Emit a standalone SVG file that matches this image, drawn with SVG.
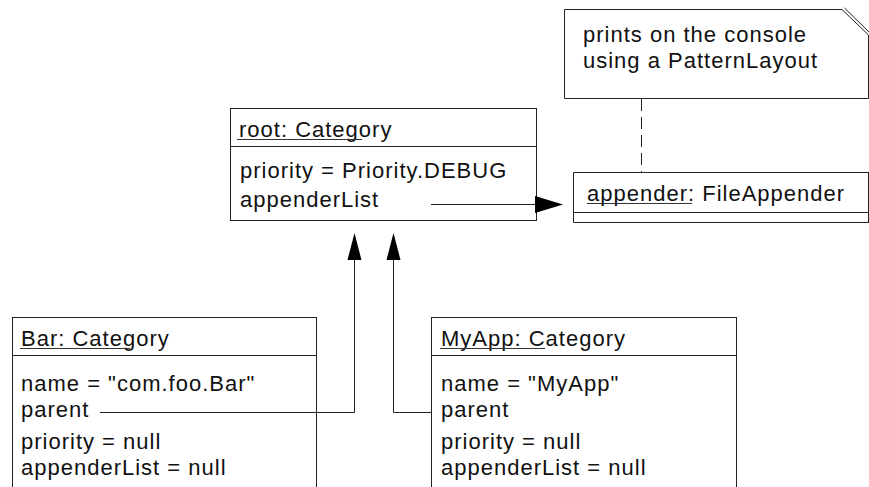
<svg xmlns="http://www.w3.org/2000/svg" width="869" height="487" viewBox="0 0 869 487">
  <style>
    .box { fill: #ffffff; stroke: #222222; stroke-width: 1; }
    .sep { stroke: #222222; stroke-width: 1; fill: none; }
    .ul { stroke: #333333; stroke-width: 1; }
    .wire { fill: none; stroke: #222222; stroke-width: 1; }
    .dash { fill: none; stroke: #222222; stroke-width: 1; stroke-dasharray: 12 6; }
    .head { fill: #000000; stroke: none; }
    text { font-family: "Liberation Sans", Arial, sans-serif; font-size: 22px; fill: #111111; letter-spacing: 1px; }
  </style>
  <rect width="869" height="487" fill="#ffffff"/>

  <!-- note -->
  <g id="note">
    <path class="box" d="M564.5,9.5 H842 L868.5,35 V98.5 H564.5 Z"/>
    <line class="sep" x1="844.5" y1="8" x2="869" y2="32"/>
    <text x="583" y="42">prints on the console</text>
    <text x="583" y="68">using a PatternLayout</text>
  </g>

  <!-- root category -->
  <g id="root">
    <rect class="box" x="230.5" y="108.5" width="306" height="112"/>
    <line class="sep" x1="230.5" y1="146.5" x2="536.5" y2="146.5"/>
    <text x="239" y="137">root: Category</text>
    <line class="ul" x1="237" y1="139.5" x2="362" y2="139.5"/>
    <text x="240" y="178">priority = Priority.DEBUG</text>
    <text x="240" y="207">appenderList</text>
  </g>

  <!-- appender -->
  <g id="appender">
    <path class="box" d="M869,172.5 H573.5 V222.5 H869"/>
    <line class="sep" x1="573.5" y1="212.5" x2="869" y2="212.5"/>
    <line class="sep" x1="868.5" y1="172.5" x2="868.5" y2="222.5"/>
    <text x="587" y="201">appender: FileAppender</text>
    <line class="ul" x1="587" y1="203.5" x2="692" y2="203.5"/>
  </g>

  <!-- Bar category -->
  <g id="bar">
    <rect class="box" x="12.5" y="317.5" width="304" height="200"/>
    <line class="sep" x1="12.5" y1="355.5" x2="316.5" y2="355.5"/>
    <text x="21" y="346">Bar: Category</text>
    <line class="ul" x1="20" y1="348.5" x2="130" y2="348.5"/>
    <text x="21" y="391">name = "com.foo.Bar"</text>
    <text x="21" y="417">parent</text>
    <text x="21" y="449">priority = null</text>
    <text x="21" y="475">appenderList = null</text>
  </g>

  <!-- MyApp category -->
  <g id="myapp">
    <rect class="box" x="431.5" y="317.5" width="305" height="200"/>
    <line class="sep" x1="431.5" y1="355.5" x2="736.5" y2="355.5"/>
    <text x="441" y="346">MyApp: Category</text>
    <line class="ul" x1="440" y1="348.5" x2="545" y2="348.5"/>
    <text x="441" y="391">name = "MyApp"</text>
    <text x="441" y="417">parent</text>
    <text x="441" y="449">priority = null</text>
    <text x="441" y="475">appenderList = null</text>
  </g>

  <!-- connectors, drawn over the boxes -->
  <g id="connectors">
    <!-- appenderList reference -->
    <line class="wire" x1="431" y1="204.5" x2="537" y2="204.5"/>
    <polygon class="head" points="535,196 563,204.5 535,213"/>
    <!-- Bar.parent to root -->
    <path class="wire" d="M100,412.5 H354.5 V258"/>
    <polygon class="head" points="354.5,233 347.5,260 361.5,260"/>
    <!-- MyApp.parent to root -->
    <path class="wire" d="M431,412.5 H393.5 V258"/>
    <polygon class="head" points="393.5,233 386.5,260 400.5,260"/>
    <!-- note anchor -->
    <line class="dash" x1="641.5" y1="99" x2="641.5" y2="172"/>
  </g>
</svg>
